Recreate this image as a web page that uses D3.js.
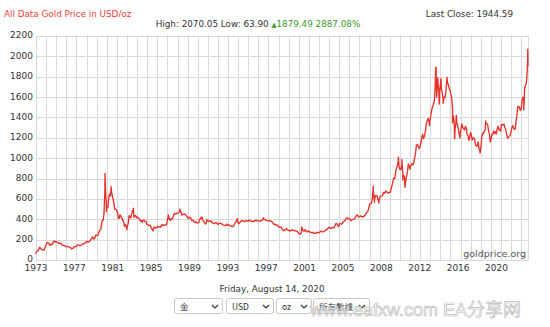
<!DOCTYPE html>
<html><head><meta charset="utf-8">
<script src="https://cdn.jsdelivr.net/npm/d3@7"></script>
<style>
html,body{margin:0;padding:0;background:#fff;}
svg{display:block;font-family:"DejaVu Sans",Verdana,sans-serif;}
</style></head>
<body>
<svg id="chart" width="550" height="327"></svg>
<script>
// ---- data (monthly mid-month prices, USD/oz) ----
const gold1970s = [
 65,74,84,91,102,123,120,107,103,100,95,107,
 129,150,168,172,163,154,143,155,152,159,182,184,
 176,180,178,170,167,164,165,163,145,143,143,139,
 132,131,133,128,126,126,118,110,114,116,131,134,
 132,136,148,149,147,141,143,145,150,159,162,161,
 173,178,184,175,176,184,189,206,213,227,206,208,
 227,246,242,239,258,279,295,301,355,392,393,455];
const gold1980s = [
 675,665,554,517,514,601,644,627,674,661,624,595,
 557,500,500,496,480,461,409,410,444,438,413,410,
 384,374,331,350,334,315,339,364,436,423,414,445,
 481,491,420,433,438,413,423,416,412,394,382,388,
 371,386,394,381,377,378,347,348,341,340,341,320,
 303,299,304,324,317,317,317,330,323,326,325,322,
 345,339,346,340,342,343,348,376,418,424,398,391,
 408,401,409,438,460,450,451,461,460,466,468,486,
 477,442,444,451,451,452,438,431,414,406,420,419,
 404,388,390,384,371,368,375,365,362,367,394,409];
const gold1990s = [
 410,417,393,374,369,352,362,395,389,380,382,378,
 384,364,363,358,357,367,368,356,349,359,360,361,
 354,354,344,339,337,341,353,340,345,344,335,335,
 329,329,330,342,367,372,392,379,355,364,374,383,
 387,382,384,377,381,386,385,380,392,390,384,379,
 379,376,382,391,385,388,386,384,383,383,386,387,
 400,405,396,393,392,385,384,388,383,381,378,369,
 355,347,352,344,344,341,324,324,323,325,306,289,
 289,297,296,308,299,292,293,284,289,296,294,292,
 287,287,286,283,276,261,256,257,265,311,293,283];
const gold2000s = [
 285,300,286,280,275,286,282,275,274,270,266,272,
 266,262,263,261,272,270,268,272,283,283,276,276,
 282,296,294,303,315,321,313,310,319,317,319,333,
 357,359,341,328,356,356,351,360,379,379,390,408,
 414,405,407,403,384,392,398,401,405,421,439,442,
 424,423,434,429,422,431,425,438,456,470,477,510,
 550,555,557,611,675,596,634,633,598,586,628,630,
 631,665,655,679,667,656,665,665,713,755,806,803,
 890,922,968,910,889,890,940,839,830,807,761,816,
 859,943,924,890,929,946,934,949,997,1043,1127,1135];
const gold2010s = [
 1118,1095,1113,1149,1205,1233,1193,1216,1271,1342,1370,1391,
 1356,1373,1424,1474,1510,1529,1573,1756,1772,1665,1739,1652,
 1656,1743,1674,1650,1586,1597,1594,1630,1745,1747,1722,1685,
 1672,1628,1593,1488,1414,1343,1286,1352,1349,1317,1276,1222,
 1244,1300,1336,1299,1288,1279,1311,1295,1237,1223,1176,1201,
 1251,1227,1179,1199,1199,1182,1128,1118,1125,1159,1086,1068,
 1098,1200,1245,1242,1261,1276,1337,1340,1327,1266,1238,1157,
 1192,1234,1231,1267,1246,1260,1237,1283,1314,1280,1282,1265,
 1331,1331,1325,1335,1304,1282,1238,1202,1198,1215,1221,1250,
 1292,1320,1301,1286,1284,1359,1413,1500,1511,1495,1470,1480];
const gold2020 = [1561,1597,1592,1683,1716,1732,1841];
// notable daily highs/lows
const dailyPoints = [
 ["1973-01-02",64],["1980-01-21",850],["1980-03-18",474],["1980-09-22",720],
 ["1982-06-21",297],["1983-02-15",509],["1985-02-25",285],["1986-09-26",442],
 ["1987-12-14",502],["1990-01-24",423],["1993-07-30",406],["1996-02-02",415],
 ["1999-07-20",252],["1999-10-05",325],["2006-05-12",725],["2006-06-14",567],
 ["2006-10-05",560],["2008-03-17",1011],["2008-07-15",986],["2008-08-15",785],
 ["2008-10-24",713],["2011-01-28",1319],["2011-08-22",1877],["2011-09-05",1895],
 ["2011-09-26",1600],["2011-11-08",1790],["2011-12-29",1531],["2012-02-28",1781],
 ["2012-05-16",1540],["2012-10-04",1792],["2013-04-15",1348],["2013-06-28",1192],
 ["2013-08-27",1420],["2013-12-31",1200],["2015-12-17",1050],["2016-07-06",1366],
 ["2020-03-19",1474],["2020-08-03",1976],["2020-08-06",2070],["2020-08-11",1911],
 ["2020-08-14",1944.59]];
const yTickValues = [0,200,400,600,800,1000,1200,1400,1600,1800,2000,2200];
const xTickLabels = ["1973","1977","1981","1985","1989","1993","1997","2001","2005","2008","2012","2016","2020"];
// date knots of the chart's (uneven) time axis
const axisDates = ["1973-01-01","1974-12-15","1976-08-15","1980-01-21","1982-06-15","1985-02-25",
 "1987-12-14","1993-03-15","1999-10-01","2001-03-15","2006-05-12","2008-03-17","2011-09-05",
 "2015-12-17","2020-08-14"];

// ---- build series ----
const parse = d3.utcParse("%Y-%m-%d");
const monthly = [];
[[1973,gold1970s],[1980,gold1980s],[1990,gold1990s],[2000,gold2000s],[2010,gold2010s],[2020,gold2020]]
 .forEach(([y0,arr]) => arr.forEach((v,i) => monthly.push({date: new Date(Date.UTC(y0+Math.floor(i/12), i%12, 15)), value: v})));
dailyPoints.forEach(([d,v]) => monthly.push({date: parse(d), value: v}));
const series = monthly.sort((a,b)=>a.date-b.date);

// ---- layout ----
const L = 36, R = 528, T = 36, B = 260;
const svg = d3.select("#chart");
svg.append("rect").attr("width",550).attr("height",327).attr("fill","#fff");

const x = d3.scaleUtc().domain(axisDates.map(parse))
  .range([35, 54.3, 71.7, 105, 126.7, 153, 180, 233.3, 301.7, 315, 373.3, 398.3, 436, 480, 528]);
const y = d3.scaleLinear().domain([0,2200]).range([B, T]);
const gridX = d3.scaleLinear().domain([0,48]).range([L, 521.2]);
const xLab = d3.scalePoint().domain(xTickLabels).range([35.5, 496]);

const grid = svg.append("g").attr("stroke","#d9d9d9").attr("stroke-width",1).attr("shape-rendering","crispEdges");
grid.selectAll("line.v").data(d3.range(49)).join("line").attr("class","v")
  .attr("x1",d=>Math.round(gridX(d))+0.5).attr("x2",d=>Math.round(gridX(d))+0.5).attr("y1",T).attr("y2",B);
grid.selectAll("line.h").data(yTickValues).join("line").attr("class","h")
  .attr("x1",L).attr("x2",R).attr("y1",d=>Math.round(y(d))+0.5).attr("y2",d=>Math.round(y(d))+0.5);
grid.append("line").attr("x1",R+0.5).attr("x2",R+0.5).attr("y1",T).attr("y2",B);

// site credit
svg.append("text").attr("x",526).attr("y",257).attr("text-anchor","end")
  .attr("font-size",9.5).attr("fill","#555").text("goldprice.org");

// price line
svg.append("path").datum(series)
  .attr("fill","none").attr("stroke","#e8302a").attr("stroke-width",1.35).attr("stroke-linejoin","round")
  .attr("d", d3.line().x(d=>x(d.date)).y(d=>y(d.value)));

// axes
const yAxis = svg.append("g").attr("transform",`translate(${L},0)`)
  .call(d3.axisLeft(y).tickValues(yTickValues).tickSize(0).tickPadding(3).tickFormat(d3.format("d")));
yAxis.select(".domain").remove();
yAxis.selectAll("text").attr("font-size",9).attr("fill","#333").attr("font-family","DejaVu Sans").attr("dy","0.22em");

const xAxis = svg.append("g").attr("transform",`translate(0,${B})`)
  .call(d3.axisBottom(xLab).tickSize(0).tickPadding(4.5));
xAxis.select(".domain").remove();
xAxis.selectAll("text").attr("font-size",9).attr("fill","#333").attr("font-family","DejaVu Sans");

// header
svg.append("text").attr("x",4).attr("y",17).attr("font-size",8.8).attr("fill","#ee3b3b")
  .text("All Data Gold Price in USD/oz");
svg.append("text").attr("x",513).attr("y",17).attr("text-anchor","end").attr("font-size",8.8).attr("fill","#333")
  .text("Last Close: 1944.59");
const hl = svg.append("text").attr("x",258).attr("y",27).attr("text-anchor","middle").attr("font-size",8.8).attr("fill","#333");
hl.append("tspan").text("High: 2070.05 Low: 63.90 ");
hl.append("tspan").attr("fill","#3d9a2b").attr("font-size",6.5).attr("dy",-0.5).text("▲");
hl.append("tspan").attr("fill","#3d9a2b").attr("dy",0.5).text("1879.49 2887.08%");

// footer
svg.append("text").attr("x",272).attr("y",292).attr("text-anchor","middle").attr("font-size",8.8).attr("fill","#333")
  .text("Friday, August 14, 2020");
const selects = [
  {label:"金", x0:174, x1:222},
  {label:"USD", x0:226, x1:273},
  {label:"oz", x0:276, x1:311},
  {label:"所有數據", x0:313, x1:369}];
const sg = svg.append("g");
selects.forEach(s => {
  sg.append("rect").attr("x",s.x0+0.5).attr("y",298.5).attr("width",s.x1-s.x0).attr("height",15)
    .attr("rx",2).attr("fill","#fff").attr("stroke","#c8c8c8");
  sg.append("text").attr("x",s.x0+6).attr("y",309.5).attr("font-size",8.5).attr("fill","#333")
    .attr("font-family","'Noto Sans CJK SC','DejaVu Sans',sans-serif").text(s.label);
  const cx = s.x1-7;
  sg.append("path").attr("d",`M${cx-3},305 L${cx},308 L${cx+3},305`).attr("fill","none")
    .attr("stroke","#333").attr("stroke-width",1.2);
});
svg.append("text").attr("x",310).attr("y",316).attr("font-size",18)
  .attr("font-family","'Liberation Sans','Noto Sans CJK SC',sans-serif")
  .attr("fill","#fff").attr("fill-opacity",0.75).attr("stroke","#bdbdbd").attr("stroke-width",0.7)
  .text("www.eafxw.com  EA分享网");
</script>
</body></html>
